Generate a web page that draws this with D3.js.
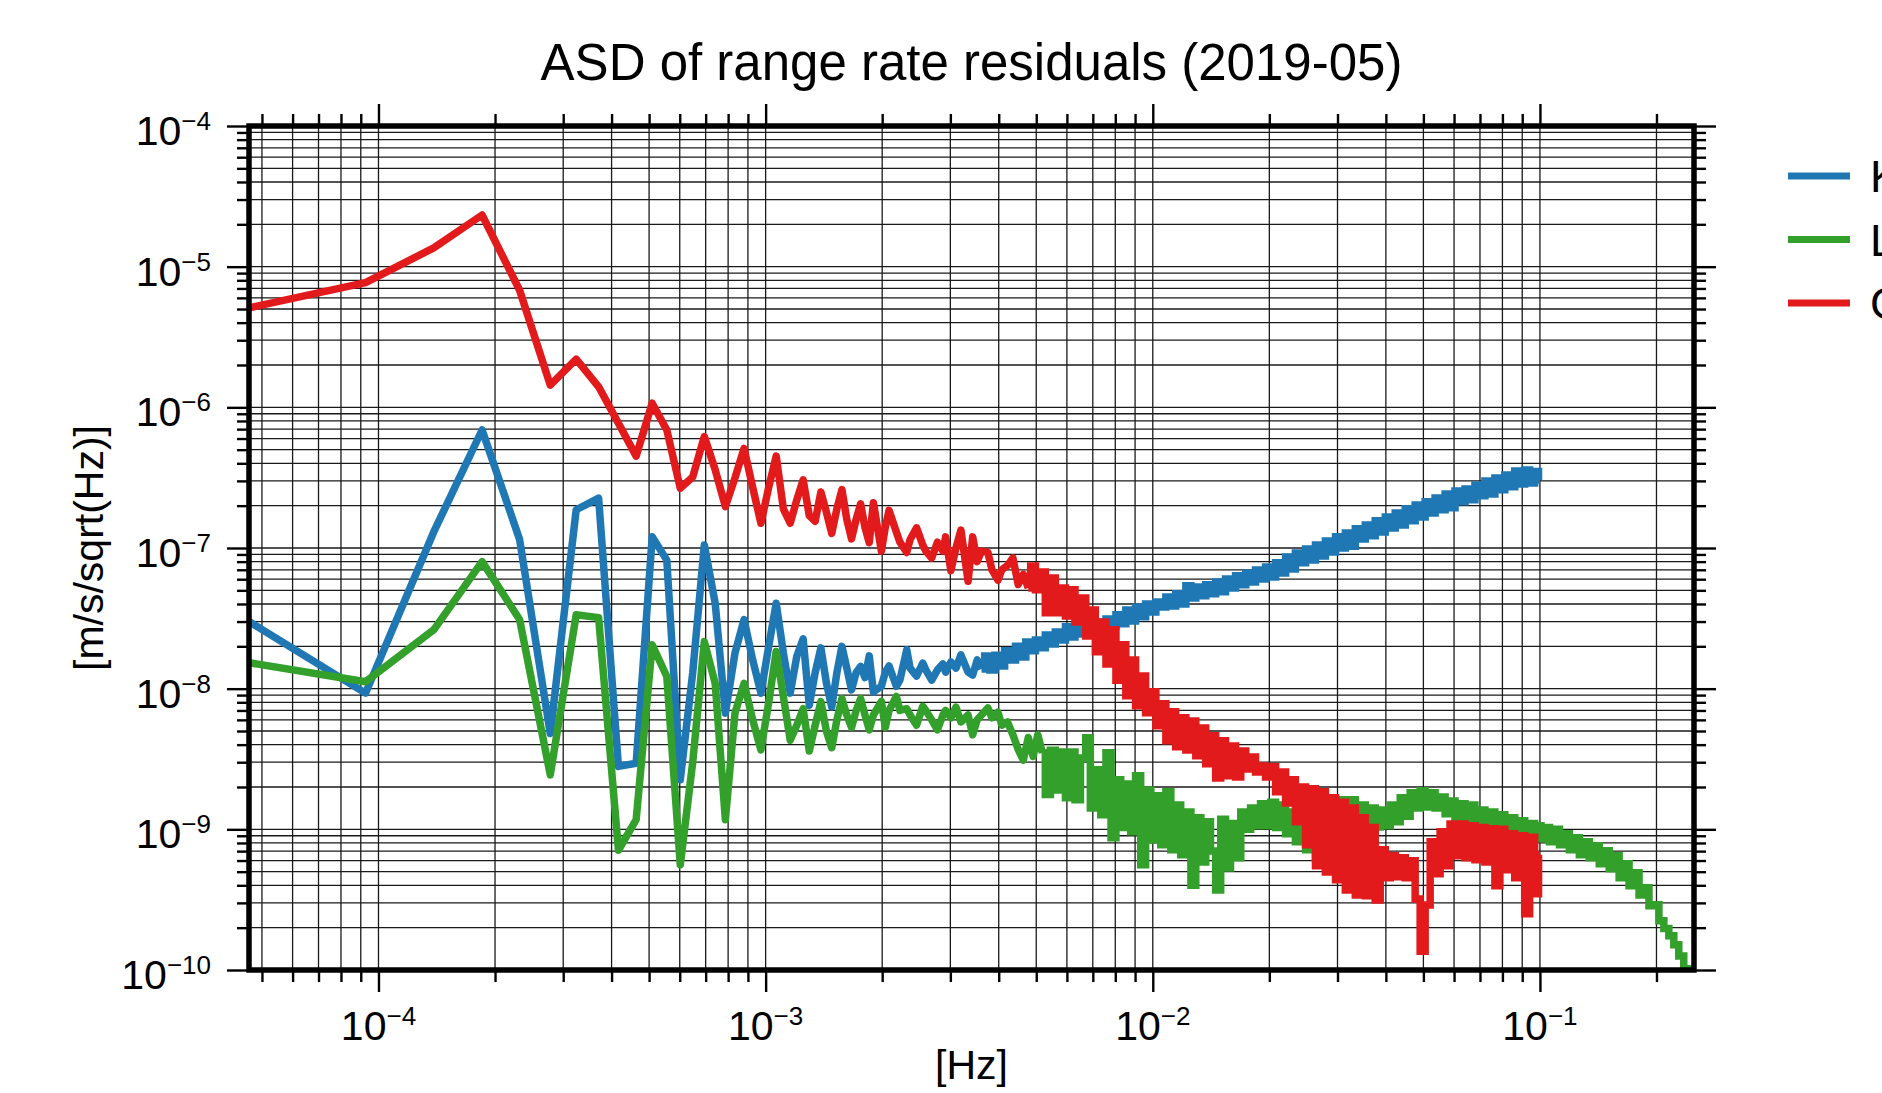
<!DOCTYPE html>
<html>
<head>
<meta charset="utf-8">
<script src="https://cdn.jsdelivr.net/npm/d3@7"></script>
<style>
  body { margin: 0; background: #ffffff; }
  svg { display: block; font-family: "Liberation Sans", Arial, Helvetica, sans-serif; }
</style>
</head>
<body>
<svg id="chart" width="1882" height="1093"></svg>
<script>
// ---------------- data ----------------
const chartTitle = "ASD of range rate residuals (2019-05)";
const xLabel = "[Hz]";
const yLabel = "[m/s/sqrt(Hz)]";
const seriesNames = ["KBR", "LRI", "GPS"];
const seriesColors = ["#1f78b4", "#33a02c", "#e31a1c"];
const binWidthHz = 1 / 21600;          // spectral resolution (6 h segments)
const xDomain = [1 / 21600, 0.25];
const yDomain = [1e-10, 1e-4];
const xTickExponents = [-4, -3, -2, -1];
const yTickExponents = [-10, -9, -8, -7, -6, -5, -4];

// frequency bin indices (frequency = bin * binWidthHz)
const bins = [
  1,2,3,4,5,6,7,8,9,10,
  11,12,13,14,15,16,17,18,19,20,
  21,22,23,24,25,26,27,28,29,30,
  31,32,33,34,35,36,37,38,39,40,
  41,43,44,45,47,48,50,51,53,55,
  56,58,60,62,63,65,67,69,72,74,
  76,78,81,83,86,88,91,94,97,100,
  103,106,109,112,116,119,123,127,130,134,
  138,143,147,151,156,161,166,171,176,181,
  187,192,198,204,210,217,223,230,237,244,
  251,259,267,275,283,292,300,309,319,328,
  338,348,359,370,381,392,404,416,429,442,
  455,469,483,497,512,528,544,560,577,594,
  612,631,650,669,689,710,731,753,776,799,
  823,848,874,900,927,955,984,1013,1044,1075,
  1108,1141,1175,1211,1247,1284,1323,1363,1404,1446,
  1489,1534,1580,1628,1677,1727,1779,1832,1887,1944,
  2002,2062,2124,2160
];
const binsHigh = [
  2188,2253,2321,2391,2462,2536,2612,2691,2772,2855,
  2940,3029,3119,3213,3309,3409,3511,3616,3725,3837,
  3952,4070,4192,4318,4448,4581,4719,4860,5006,5156,
  5311,5400
];

// KBR ASD [m/s/sqrt(Hz)]
const kbrAsd = [
  3.0e-8, 9.3e-9, 1.3e-7, 6.9e-7, 1.15e-7, 4.8e-9, 1.87e-7, 2.26e-7, 2.8e-9, 2.95e-9,
  1.2e-7, 8.2e-8, 2.25e-9, 1.3e-8, 1.05e-7, 4.05e-8, 6.7e-9, 1.79e-8, 3.1e-8, 1.6e-8,
  9.3e-9, 2.0e-8, 4.05e-8, 1.8e-8, 9.3e-9, 1.7e-8, 2.26e-8, 7.6e-9, 1.3e-8, 1.95e-8,
  1.1e-8, 7.4e-9, 1.3e-8, 2.0e-8, 1.4e-8, 9.8e-9, 1.3e-8, 1.44e-8, 1.2e-8, 1.71e-8,
  9.5e-9, 1.04e-8, 1.31e-8, 1.45e-8, 1.04e-8, 1.15e-8, 1.89e-8, 1.4e-8, 1.23e-8, 1.52e-8,
  1.36e-8, 1.15e-8, 1.36e-8, 1.5e-8, 1.31e-8, 1.55e-8, 1.4e-8, 1.74e-8, 1.31e-8, 1.25e-8,
  1.6e-8, 1.38e-8, 1.71e-8, 1.36e-8, 1.73e-8, 1.45e-8, 1.86e-8, 1.6e-8, 2.0e-8, 1.68e-8,
  2.15e-8, 1.86e-8, 2.22e-8, 1.95e-8, 2.41e-8, 2.08e-8, 2.53e-8, 2.22e-8, 2.75e-8, 2.33e-8,
  2.79e-8, 2.45e-8, 2.89e-8, 2.57e-8, 2.98e-8, 2.7e-8, 3.13e-8, 2.79e-8, 3.35e-8, 2.89e-8,
  3.63e-8, 3.03e-8, 3.81e-8, 3.24e-8, 4.0e-8, 3.51e-8, 4.14e-8, 3.81e-8, 4.49e-8, 3.87e-8,
  4.72e-8, 4.0e-8, 5.38e-8, 4.42e-8, 5.29e-8, 4.57e-8, 5.47e-8, 4.72e-8, 5.74e-8, 4.88e-8,
  6.03e-8, 5.2e-8, 6.34e-8, 5.47e-8, 6.65e-8, 5.74e-8, 6.99e-8, 6.03e-8, 7.34e-8, 6.23e-8,
  7.84e-8, 6.65e-8, 8.64e-8, 7.1e-8, 9.23e-8, 7.84e-8, 9.85e-8, 8.23e-8, 1.05e-7, 8.79e-8,
  1.12e-7, 9.38e-8, 1.2e-7, 1.0e-7, 1.28e-7, 1.03e-7, 1.37e-7, 1.16e-7, 1.46e-7, 1.22e-7,
  1.56e-7, 1.3e-7, 1.66e-7, 1.39e-7, 1.77e-7, 1.46e-7, 1.9e-7, 1.56e-7, 2.02e-7, 1.66e-7,
  2.13e-7, 1.77e-7, 2.27e-7, 1.87e-7, 2.42e-7, 1.93e-7, 2.54e-7, 2.13e-7, 2.63e-7, 2.2e-7,
  2.81e-7, 2.35e-7, 3.0e-7, 2.42e-7, 3.15e-7, 2.59e-7, 3.31e-7, 2.72e-7, 3.53e-7, 2.85e-7,
  3.58e-7, 2.9e-7, 3.5e-7, 3.05e-7
];

// LRI ASD [m/s/sqrt(Hz)]
const lriAsd = [
  1.53e-8, 1.12e-8, 2.62e-8, 8.0e-8, 3.1e-8, 2.44e-9, 3.35e-8, 3.2e-8, 7.1e-10, 1.17e-9,
  2.05e-8, 1.22e-8, 5.6e-10, 3.0e-9, 2.16e-8, 1.09e-8, 1.17e-9, 6.7e-9, 1.09e-8, 6.0e-9,
  3.67e-9, 8.0e-9, 1.84e-8, 8.8e-9, 4.3e-9, 5.5e-9, 7.2e-9, 3.6e-9, 5.5e-9, 8.1e-9,
  5.0e-9, 3.8e-9, 6.0e-9, 8.5e-9, 6.5e-9, 5.3e-9, 7.0e-9, 8.5e-9, 6.5e-9, 5.1e-9,
  6.5e-9, 8.1e-9, 5.3e-9, 7.0e-9, 8.8e-9, 7.0e-9, 7.2e-9, 6.5e-9, 5.5e-9, 7.5e-9,
  7.0e-9, 6.0e-9, 5.1e-9, 6.5e-9, 7.0e-9, 6.2e-9, 7.4e-9, 5.8e-9, 6.5e-9, 4.7e-9,
  6.0e-9, 6.5e-9, 7.3e-9, 6.2e-9, 6.8e-9, 5.5e-9, 5.8e-9, 4.7e-9, 3.7e-9, 3.1e-9,
  4.5e-9, 3.3e-9, 4.7e-9, 3.5e-9, 1.77e-9, 3.65e-9, 1.9e-9, 3.55e-9, 1.68e-9, 3.55e-9,
  1.62e-9, 3.22e-9, 4.47e-9, 1.42e-9, 2.65e-9, 1.27e-9, 3.5e-9, 8.7e-10, 2.25e-9, 1.03e-9,
  2.1e-9, 9.6e-10, 2.4e-9, 5.6e-10, 1.9e-9, 8.4e-10, 1.73e-9, 7.76e-10, 1.85e-9, 7.15e-10,
  1.49e-9, 6.6e-10, 1.33e-9, 4.0e-10, 1.21e-9, 5.87e-10, 1.13e-9, 7.0e-10, 3.7e-10, 1.18e-9,
  5.3e-10, 1.1e-9, 6.27e-10, 1.33e-9, 1.0e-9, 1.42e-9, 1.06e-9, 1.52e-9, 1.06e-9, 1.56e-9,
  1.03e-9, 1.49e-9, 9.3e-10, 1.33e-9, 8.15e-10, 1.21e-9, 7.15e-10, 1.13e-9, 6.27e-10, 1.21e-9,
  6.6e-10, 1.49e-9, 7.76e-10, 1.62e-9, 9.1e-10, 1.62e-9, 1.0e-9, 1.49e-9, 1.03e-9, 1.42e-9,
  1.04e-9, 1.37e-9, 1.06e-9, 1.49e-9, 1.13e-9, 1.68e-9, 1.24e-9, 1.82e-9, 1.42e-9, 1.88e-9,
  1.44e-9, 1.82e-9, 1.42e-9, 1.7e-9, 1.29e-9, 1.59e-9, 1.21e-9, 1.52e-9, 1.13e-9, 1.49e-9,
  1.08e-9, 1.37e-9, 1.04e-9, 1.33e-9, 1.01e-9, 1.27e-9, 1.0e-9, 1.21e-9, 9.75e-10, 1.15e-9,
  9.3e-10, 1.1e-9, 8.85e-10, 1.06e-9
];
const lriAsdHigh = [
  8.56e-10, 1.03e-9, 8.15e-10, 1.0e-9, 7.76e-10, 9.3e-10, 7.15e-10, 8.7e-10, 6.6e-10, 8.15e-10,
  6.27e-10, 7.63e-10, 5.69e-10, 7.03e-10, 5.24e-10, 6.48e-10, 4.52e-10, 5.69e-10, 3.97e-10, 4.91e-10,
  3.42e-10, 3.84e-10, 2.86e-10, 2.91e-10, 2.24e-10, 1.97e-10, 1.75e-10, 1.51e-10, 1.26e-10, 1.02e-10,
  8.2e-11, 7.3e-11
];

// GPS ASD [m/s/sqrt(Hz)]
const gpsAsd = [
  5.1e-6, 7.7e-6, 1.36e-5, 2.33e-5, 6.8e-6, 1.44e-6, 2.2e-6, 1.4e-6, 7.7e-7, 4.5e-7,
  1.07e-6, 6.9e-7, 2.66e-7, 3.2e-7, 6.2e-7, 3.6e-7, 1.97e-7, 3.15e-7, 5.1e-7, 2.7e-7,
  1.5e-7, 2.7e-7, 4.5e-7, 1.9e-7, 1.5e-7, 2.2e-7, 3.05e-7, 1.7e-7, 1.55e-7, 2.5e-7,
  1.8e-7, 1.27e-7, 1.9e-7, 2.6e-7, 1.6e-7, 1.16e-7, 1.6e-7, 2.06e-7, 1.4e-7, 1.09e-7,
  2.1e-7, 9.5e-8, 1.4e-7, 1.85e-7, 1.3e-7, 1.1e-7, 9.3e-8, 1.15e-7, 1.39e-7, 1.05e-7,
  9.5e-8, 8.5e-8, 1.1e-7, 9.5e-8, 1.2e-7, 6.9e-8, 1.0e-7, 1.34e-7, 5.8e-8, 1.2e-7,
  8.0e-8, 9.5e-8, 9.3e-8, 7.0e-8, 5.9e-8, 7.0e-8, 7.5e-8, 8.5e-8, 5.5e-8, 6.5e-8,
  5.2e-8, 7.46e-8, 5.04e-8, 6.76e-8, 3.46e-8, 6.13e-8, 3.46e-8, 5.2e-8, 3.29e-8, 5.04e-8,
  2.98e-8, 4.42e-8, 2.37e-8, 3.63e-8, 1.83e-8, 2.98e-8, 1.5e-8, 2.62e-8, 1.15e-8, 2.05e-8,
  8.9e-9, 1.6e-8, 7.55e-9, 1.23e-8, 6.73e-9, 9.5e-9, 5.44e-9, 7.8e-9, 4.26e-9, 6.84e-9,
  3.86e-9, 6.2e-9, 3.67e-9, 5.9e-9, 3.33e-9, 5.26e-9, 2.92e-9, 4.62e-9, 2.32e-9, 4.26e-9,
  2.4e-9, 3.92e-9, 2.36e-9, 3.61e-9, 2.69e-9, 3.27e-9, 2.56e-9, 2.82e-9, 2.36e-9, 2.78e-9,
  1.85e-9, 2.56e-9, 1.54e-9, 2.25e-9, 1.13e-9, 2.0e-9, 7.76e-10, 1.94e-9, 5.5e-10, 1.85e-9,
  4.98e-10, 1.68e-9, 4.38e-10, 1.56e-9, 3.71e-10, 1.42e-9, 3.42e-10, 1.21e-9, 3.37e-10, 1.03e-9,
  3.15e-10, 7.15e-10, 4.52e-10, 6.48e-10, 4.6e-10, 6.27e-10, 4.52e-10, 5.97e-10, 3.2e-10, 1.36e-10,
  2.9e-10, 8.15e-10, 4.83e-10, 9.6e-10, 5.5e-10, 1.09e-9, 6.48e-10, 1.09e-9, 6.27e-10, 1.06e-9,
  6.07e-10, 1.03e-9, 5.87e-10, 1.01e-9, 3.97e-10, 1.0e-9, 5.15e-10, 9.3e-10, 4.52e-10, 9.0e-10,
  2.51e-10, 8.8e-10, 3.48e-10, 6.6e-10
];

// ---------------- layout ----------------
const W = 1882, H = 1093;
const plot = { left: 249, right: 1694, top: 126, bottom: 970 };
// bin from which each spectrum is dense enough to be drawn sample-by-sample (stepped)
const denseFromBin = [78, 112, 103];

const svg = d3.select("#chart");
svg.append("rect").attr("width", W).attr("height", H).attr("fill", "#fff");

const x = d3.scaleLog().domain(xDomain).range([plot.left, plot.right]);
const y = d3.scaleLog().domain(yDomain).range([plot.bottom, plot.top]);

const isDecade = v => Math.abs(Math.log10(v) - Math.round(Math.log10(v))) < 1e-6;
const xAll = x.ticks();
const yAll = y.ticks();
const xMajor = xTickExponents.map(e => Math.pow(10, e));
const yMajor = yTickExponents.map(e => Math.pow(10, e));
const xMinor = xAll.filter(v => !isDecade(v));
const yMinor = yAll.filter(v => !isDecade(v));

// grid
const grid = svg.append("g").attr("stroke", "#1a1a1a").attr("stroke-width", 1.3);
grid.selectAll("line.gx").data(xAll).join("line")
  .attr("x1", d => x(d)).attr("x2", d => x(d))
  .attr("y1", plot.top).attr("y2", plot.bottom);
grid.selectAll("line.gy").data(yAll).join("line")
  .attr("y1", d => y(d)).attr("y2", d => y(d))
  .attr("x1", plot.left).attr("x2", plot.right);

// clip
svg.append("defs").append("clipPath").attr("id", "plotClip")
  .append("rect").attr("x", plot.left).attr("y", plot.top)
  .attr("width", plot.right - plot.left).attr("height", plot.bottom - plot.top);

const toPoints = (bs, vs) => bs.map((k, i) => ({ k: k, f: k * binWidthHz, v: vs[i] })).filter(d => d.v != null);
const series = [
  { name: seriesNames[0], color: seriesColors[0], pts: toPoints(bins, kbrAsd) },
  { name: seriesNames[1], color: seriesColors[1], pts: toPoints(bins, lriAsd).concat(toPoints(binsHigh, lriAsdHigh)) },
  { name: seriesNames[2], color: seriesColors[2], pts: toPoints(bins, gpsAsd) }
];

const lineLin = d3.line().x(d => x(d.f)).y(d => y(d.v));
const lineStep = d3.line().x(d => x(d.f)).y(d => y(d.v)).curve(d3.curveStep);
const dataG = svg.append("g").attr("clip-path", "url(#plotClip)");
series.forEach((s, i) => {
  const cut = denseFromBin[i];
  const low = s.pts.filter(d => d.k <= cut);
  const high = s.pts.filter(d => d.k >= cut);
  const g = dataG.append("g").attr("fill", "none").attr("stroke", s.color)
    .attr("stroke-width", 7.5).attr("stroke-linejoin", "round");
  g.append("path").attr("d", lineLin(low));
  g.append("path").attr("d", lineStep(high)).attr("stroke-linejoin", "miter");
});

// axes ticks (outward, all four sides)
function addAxis(gen, transform, values, size) {
  const g = svg.append("g").attr("transform", transform)
    .call(gen.tickValues(values).tickSize(size).tickFormat(""));
  g.select(".domain").remove();
  g.selectAll(".tick line").attr("stroke", "#000").attr("stroke-width", 2.4);
}
const majorLen = 22, minorLen = 12;
addAxis(d3.axisBottom(x), `translate(0,${plot.bottom})`, xMajor, majorLen);
addAxis(d3.axisBottom(x), `translate(0,${plot.bottom})`, xMinor, minorLen);
addAxis(d3.axisTop(x), `translate(0,${plot.top})`, xMajor, majorLen);
addAxis(d3.axisTop(x), `translate(0,${plot.top})`, xMinor, minorLen);
addAxis(d3.axisLeft(y), `translate(${plot.left},0)`, yMajor, majorLen);
addAxis(d3.axisLeft(y), `translate(${plot.left},0)`, yMinor, minorLen);
addAxis(d3.axisRight(y), `translate(${plot.right},0)`, yMajor, majorLen);
addAxis(d3.axisRight(y), `translate(${plot.right},0)`, yMinor, minorLen);

// frame
svg.append("rect").attr("x", plot.left).attr("y", plot.top)
  .attr("width", plot.right - plot.left).attr("height", plot.bottom - plot.top)
  .attr("fill", "none").attr("stroke", "#000").attr("stroke-width", 5.5);

// tick labels 10^n
const labelSize = 41, supSize = 26, supRise = 15;
function powLabel(t, e) {
  t.append("tspan").text("10");
  t.append("tspan").attr("dy", -supRise).attr("font-size", supSize).text("\u2212" + Math.abs(e));
}
svg.append("g").selectAll("text").data(xTickExponents).join("text")
  .attr("x", e => x(Math.pow(10, e))).attr("y", 1040)
  .attr("text-anchor", "middle").attr("font-size", labelSize).attr("fill", "#000")
  .each(function (e) { powLabel(d3.select(this), e); });
svg.append("g").selectAll("text").data(yTickExponents).join("text")
  .attr("x", 211).attr("y", e => y(Math.pow(10, e)) + 19)
  .attr("text-anchor", "end").attr("font-size", labelSize).attr("fill", "#000")
  .each(function (e) { powLabel(d3.select(this), e); });

// title and axis labels
svg.append("text").attr("x", (plot.left + plot.right) / 2).attr("y", 80)
  .attr("text-anchor", "middle").attr("font-size", 51).attr("fill", "#000").text(chartTitle);
svg.append("text").attr("x", (plot.left + plot.right) / 2).attr("y", 1079)
  .attr("text-anchor", "middle").attr("font-size", 41).attr("fill", "#000").text(xLabel);
svg.append("text").attr("transform", `translate(103,${(plot.top + plot.bottom) / 2}) rotate(-90)`)
  .attr("text-anchor", "middle").attr("font-size", 41).attr("fill", "#000").text(yLabel);

// legend (labels run past the right edge, as in the original figure)
const legend = svg.append("g").selectAll("g").data(series).join("g")
  .attr("transform", (d, i) => `translate(1788,${176 + i * 63.5})`);
legend.append("line").attr("x1", 0).attr("x2", 62).attr("y1", 0).attr("y2", 0)
  .attr("stroke", d => d.color).attr("stroke-width", 7);
legend.append("text").attr("x", 82).attr("y", 16).attr("font-size", 45).attr("fill", "#000")
  .text(d => d.name);
</script>
</body>
</html>
